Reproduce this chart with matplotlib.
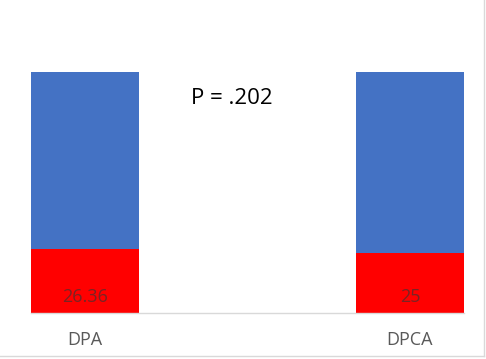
import matplotlib.pyplot as plt
from matplotlib.lines import Line2D

categories = ['DPA', 'DPCA']
red_values = [26.36, 25]
blue_values = [73.64, 75]
red_labels = ['26.36', '25']

fig = plt.figure(figsize=(4.86, 3.59), dpi=100)
W, H = 486.0, 359.0
ax = fig.add_axes([31 / W, 46 / H, 433 / W, 241 / H])

x = [0, 1]
width = 0.333
ax.bar(x, red_values, width=width, color='#ff0000', zorder=2)
ax.bar(x, blue_values, width=width, bottom=red_values, color='#4472c4', zorder=2)

for xi, lab in zip(x, red_labels):
    ax.text(xi, 6.5, lab, ha='center', va='center', fontsize=13,
            color='#7a2424', family='Open Sans')

ax.set_xlim(-width / 2, 1 + width / 2)
ax.set_ylim(0, 100)
ax.set_yticks([])
ax.set_xticks(x)
ax.set_xticklabels(categories, fontsize=13, color='#595959', family='Open Sans')
ax.tick_params(axis='x', length=0, pad=13)
for s in ['top', 'left', 'right']:
    ax.spines[s].set_visible(False)
ax.spines['bottom'].set_color('#d9d9d9')
ax.spines['bottom'].set_linewidth(1)

fig.text(232 / W, 1 - 99 / H, 'P = .202', ha='center', va='center',
         fontsize=16, color='black', family='Open Sans')

# light frame on right and bottom edges
fig.add_artist(Line2D([484 / W, 484 / W], [3 / H, 1], color='#d9d9d9', lw=1))
fig.add_artist(Line2D([0, 484 / W], [3 / H, 3 / H], color='#d9d9d9', lw=1))

fig.savefig('out.png', dpi=100)
